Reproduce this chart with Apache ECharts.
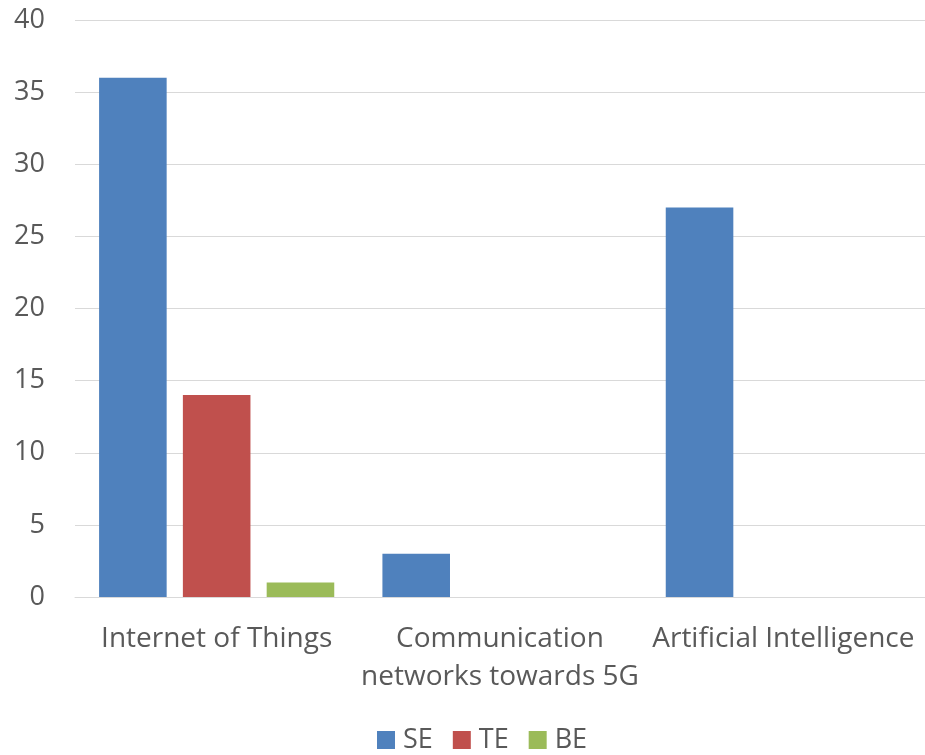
<!DOCTYPE html>
<html><head><meta charset="utf-8">
<script src="https://cdn.jsdelivr.net/npm/echarts@6/dist/echarts.min.js"></script>
<style>html,body{margin:0;padding:0;background:#fff}#c{width:925px;height:755px}</style>
</head><body><div id="c"></div>
<script>
const categories = ['Internet of Things', 'Communication\nnetworks towards 5G', 'Artificial Intelligence'];
const seriesNames = ['SE', 'TE', 'BE'];
const seValues = [36, 3, 27];
const teValues = [14, 0, 0];
const beValues = [1, 0, 0];
const colors = ['#4F81BD', '#C0504D', '#9BBB59'];
const font = 'Open Sans';
const chart = echarts.init(document.getElementById('c'));
const data = [seValues, teValues, beValues];
chart.setOption({
  animation: false,
  textStyle: { fontFamily: font },
  grid: { left: 75, right: 0, top: 20, bottom: 158 },
  legend: {
    bottom: 0, left: 377, itemWidth: 18, itemHeight: 18, itemGap: 20,
    icon: 'rect', padding: 0,
    textStyle: { fontSize: 27, color: '#595959', fontFamily: font, padding: [0, 0, 0, 3], lineHeight: 30 },
    data: seriesNames
  },
  xAxis: {
    type: 'category', data: categories,
    axisLine: { lineStyle: { color: '#d9d9d9', width: 1 } },
    axisTick: { show: false },
    axisLabel: { fontSize: 28, color: '#595959', margin: 23, lineHeight: 38, interval: 0 }
  },
  yAxis: {
    type: 'value', min: 0, max: 40, interval: 5,
    axisLine: { show: false }, axisTick: { show: false },
    splitLine: { lineStyle: { color: '#d9d9d9', width: 1 } },
    axisLabel: { fontSize: 27, color: '#595959', margin: 30 }
  },
  series: seriesNames.map((n, i) => ({
    name: n, type: 'bar', data: data[i],
    itemStyle: { color: colors[i] },
    barGap: '24%', barCategoryGap: '17%'
  }))
});
</script></body></html>
